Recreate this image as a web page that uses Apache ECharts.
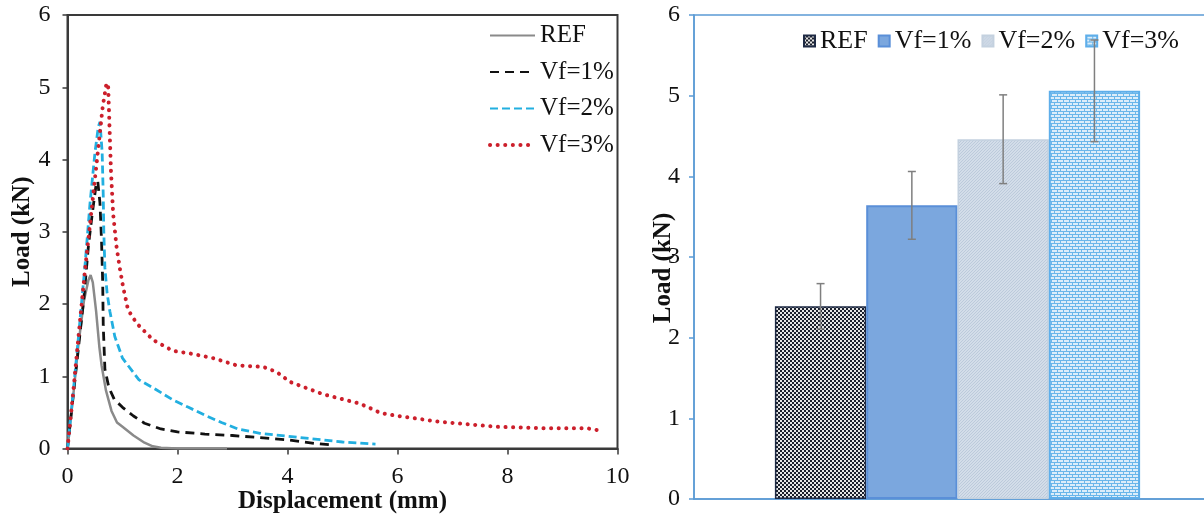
<!DOCTYPE html>
<html>
<head>
<meta charset="utf-8">
<script src="https://cdn.jsdelivr.net/npm/echarts@6/dist/echarts.min.js"></script>
<style>
  html, body { margin: 0; padding: 0; background: #fff; }
  #left { position: absolute; left: 0; top: 0; width: 640px; height: 518px; }
  #right { position: absolute; left: 640px; top: 0; width: 564px; height: 518px; }
</style>
</head>
<body>
<div id="left"></div>
<div id="right"></div>
<script>
// load-displacement curves, [displacement mm, load kN]
const curveREF = [[0,0],[0.1,0.7],[0.2,1.45],[0.3,2.05],[0.38,2.33],[0.42,2.4],[0.46,2.3],[0.52,1.9],[0.58,1.4],[0.62,1.15],[0.7,0.8],[0.8,0.52],[0.9,0.36],[1.0,0.3],[1.2,0.18],[1.4,0.08],[1.55,0.03],[1.7,0.01],[2.0,0],[2.9,0]];
const curveVf1 = [[0,0],[0.1,0.7],[0.2,1.4],[0.3,2.1],[0.38,2.8],[0.45,3.25],[0.52,3.65],[0.55,3.7],[0.59,3.4],[0.62,2.85],[0.64,2.3],[0.65,1.7],[0.68,1.1],[0.75,0.85],[0.85,0.68],[1.0,0.57],[1.2,0.45],[1.4,0.35],[1.7,0.27],[2.0,0.23],[2.5,0.2],[3.0,0.18],[3.5,0.15],[4.0,0.12],[4.5,0.07],[4.8,0.05]];
const curveVf2 = [[0,0],[0.1,0.75],[0.2,1.55],[0.32,2.55],[0.41,3.4],[0.5,4.1],[0.56,4.45],[0.59,4.52],[0.63,4.1],[0.65,3.5],[0.66,3.0],[0.68,2.5],[0.72,2.15],[0.77,1.9],[0.86,1.55],[1.0,1.25],[1.1,1.15],[1.3,0.95],[1.6,0.82],[1.9,0.68],[2.2,0.57],[2.5,0.46],[2.8,0.36],[3.1,0.27],[3.5,0.21],[4.0,0.17],[4.5,0.13],[5.0,0.09],[5.6,0.06]];
const curveVf3 = [[0,0],[0.1,0.75],[0.2,1.55],[0.32,2.48],[0.41,3.11],[0.53,3.95],[0.64,4.73],[0.71,5.06],[0.74,5.0],[0.76,4.54],[0.79,3.85],[0.83,3.25],[0.89,2.8],[0.95,2.5],[1.01,2.24],[1.1,1.92],[1.26,1.73],[1.56,1.5],[1.92,1.35],[2.2,1.32],[2.65,1.25],[3.08,1.15],[3.56,1.13],[3.8,1.06],[4.05,0.92],[4.65,0.75],[5.32,0.62],[5.7,0.49],[6.0,0.45],[6.77,0.37],[7.8,0.3],[8.7,0.28],[9.45,0.28],[9.74,0.24]];

// peak loads (bar chart)
const groups = ["REF", "Vf=1%", "Vf=2%", "Vf=3%"];
const peakLoad = [2.39, 3.64, 4.46, 5.06];
const peakErr = [0.28, 0.42, 0.55, 0.63];

const FONT = "Liberation Serif";

function pattern(size, draw) {
  const c = document.createElement("canvas");
  c.width = c.height = size;
  draw(c.getContext("2d"));
  return { image: c, repeat: "repeat" };
}

const fillREF = pattern(4, (ctx) => {
  ctx.fillStyle = "#1a1f2b";
  ctx.fillRect(0, 0, 4, 4);
  ctx.fillStyle = "#e6e6e6";
  ctx.fillRect(0, 0, 2, 2);
  ctx.fillRect(2, 2, 2, 2);
});
const fillVf2 = pattern(3, (ctx) => {
  ctx.fillStyle = "#d3dde9";
  ctx.fillRect(0, 0, 3, 3);
  ctx.fillStyle = "#bccadb";
  for (let i = 0; i < 3; i++) ctx.fillRect(i, 2 - i, 1, 1);
});
const fillVf3 = pattern(6, (ctx) => {
  ctx.fillStyle = "#dcedfa";
  ctx.fillRect(0, 0, 6, 6);
  ctx.fillStyle = "#6ab6ea";
  ctx.fillRect(0, 0, 6, 1);
  ctx.fillRect(0, 3, 6, 1);
  ctx.fillRect(0, 0, 1, 3);
  ctx.fillRect(3, 3, 1, 3);
});

const barStyles = [
  { color: fillREF, borderColor: "#1e2a44", borderWidth: 1.5 },
  { color: "#7ba7de", borderColor: "#5a8fd8", borderWidth: 2 },
  { color: fillVf2, borderColor: "#c4d1df", borderWidth: 1.5 },
  { color: fillVf3, borderColor: "#5eaeea", borderWidth: 2 },
];

// ---------- left: load vs displacement ----------
const left = echarts.init(document.getElementById("left"));
const frame = "#3a3a3a";
left.setOption({
  animation: false,
  textStyle: { fontFamily: FONT },
  grid: { left: 67.5, top: 15, width: 550, height: 433.5, show: true, borderColor: frame, borderWidth: 2, outerBoundsMode: "none" },
  legend: {
    orient: "vertical",
    left: 488,
    top: 23,
    padding: 0,
    itemWidth: 45,
    itemHeight: 14,
    itemGap: 11.5,
    itemStyle: { color: "rgba(0,0,0,0)", borderWidth: 0 },
    textStyle: { fontFamily: FONT, fontSize: 25, color: "#111" },
    data: groups.map((g) => g === "Vf=3%" ? { name: g, lineStyle: { width: 4, cap: "round" } } : g),
  },
  xAxis: {
    type: "value",
    min: 0, max: 10, interval: 2,
    name: "Displacement (mm)",
    nameLocation: "middle",
    nameGap: 41,
    nameMoveOverlap: false,
    nameTextStyle: { fontFamily: FONT, fontSize: 25, fontWeight: "bold", color: "#111" },
    axisLine: { lineStyle: { color: frame, width: 2 } },
    axisTick: { length: 6, lineStyle: { color: frame, width: 1.5 } },
    axisLabel: { fontFamily: FONT, fontSize: 24, color: "#111", margin: 16 },
    splitLine: { show: false },
  },
  yAxis: {
    type: "value",
    min: 0, max: 6, interval: 1,
    name: "Load (kN)",
    nameLocation: "middle",
    nameGap: 32,
    nameMoveOverlap: false,
    nameTextStyle: { fontFamily: FONT, fontSize: 25, fontWeight: "bold", color: "#111" },
    axisLine: { show: true, lineStyle: { color: frame, width: 2 } },
    axisTick: { show: true, length: 5, lineStyle: { color: frame, width: 1.5 } },
    axisLabel: { fontFamily: FONT, fontSize: 24, color: "#111", margin: 17 },
    splitLine: { show: false },
  },
  series: [
    { name: "REF", type: "line", data: curveREF, symbol: "none",
      lineStyle: { color: "#8a8a8a", width: 2.5 }, itemStyle: { color: "#8a8a8a" } },
    { name: "Vf=1%", type: "line", data: curveVf1, symbol: "none",
      lineStyle: { color: "#111", width: 2.8, type: [9, 6] }, itemStyle: { color: "#111" } },
    { name: "Vf=2%", type: "line", data: curveVf2, symbol: "none",
      lineStyle: { color: "#22afe0", width: 2.8, type: [8, 4] }, itemStyle: { color: "#22afe0" } },
    { name: "Vf=3%", type: "line", data: curveVf3, symbol: "none",
      lineStyle: { color: "#cc1f2b", width: 4, type: [0.1, 7.5], cap: "round" }, itemStyle: { color: "#cc1f2b" } },
  ],
});

// ---------- right: peak load bars ----------
const right = echarts.init(document.getElementById("right"));
const blue = "#5b9bd5";
const catGap = 0.307;

right.setOption({
  animation: false,
  textStyle: { fontFamily: FONT },
  grid: { left: 54, top: 15, width: 527, height: 484, show: true, borderColor: blue, borderWidth: 1.5, outerBoundsMode: "none" },
  legend: {
    left: 163,
    top: 28,
    padding: 0,
    icon: "rect",
    itemWidth: 11,
    itemHeight: 11,
    itemGap: 10,
    textStyle: { fontFamily: FONT, fontSize: 26, color: "#111" },
    data: groups,
  },
  xAxis: {
    type: "category",
    data: [""],
    axisLine: { lineStyle: { color: blue, width: 1.5 } },
    axisTick: { show: false },
    axisLabel: { show: false },
  },
  yAxis: {
    type: "value",
    min: 0, max: 6, interval: 1,
    name: "Load (kN)",
    nameLocation: "middle",
    nameGap: 18,
    nameMoveOverlap: false,
    nameTextStyle: { fontFamily: FONT, fontSize: 25, fontWeight: "bold", color: "#111", padding: [0, 22, 0, 0] },
    axisLine: { show: true, lineStyle: { color: blue, width: 1.5 } },
    axisTick: { show: true, length: 5, lineStyle: { color: blue, width: 1.5 } },
    axisLabel: { fontFamily: FONT, fontSize: 24, color: "#111", margin: 14 },
    splitLine: { show: false },
  },
  series: groups.map((g, i) => ({
    name: g,
    type: "bar",
    data: [peakLoad[i]],
    barGap: "0%",
    barCategoryGap: (catGap * 100) + "%",
    itemStyle: barStyles[i],
  })).concat([{
    type: "custom",
    name: "err",
    z: 10,
    data: peakLoad.map((v, i) => [i, v, peakErr[i]]),
    renderItem: (params, api) => {
      const i = api.value(0);
      const v = api.value(1);
      const e = api.value(2);
      const bandW = api.size([1, 0])[0];
      const barW = bandW * (1 - catGap) / groups.length;
      const x = api.coord([0, v])[0] + (i - (groups.length - 1) / 2) * barW;
      const top = api.coord([0, v + e])[1];
      const bot = api.coord([0, v - e])[1];
      const style = { stroke: "#7f7f7f", lineWidth: 1.5 };
      return {
        type: "group",
        children: [
          { type: "line", shape: { x1: x, y1: top, x2: x, y2: bot }, style },
          { type: "line", shape: { x1: x - 4, y1: top, x2: x + 4, y2: top }, style },
          { type: "line", shape: { x1: x - 4, y1: bot, x2: x + 4, y2: bot }, style },
        ],
      };
    },
  }]),
});
</script>
</body>
</html>
